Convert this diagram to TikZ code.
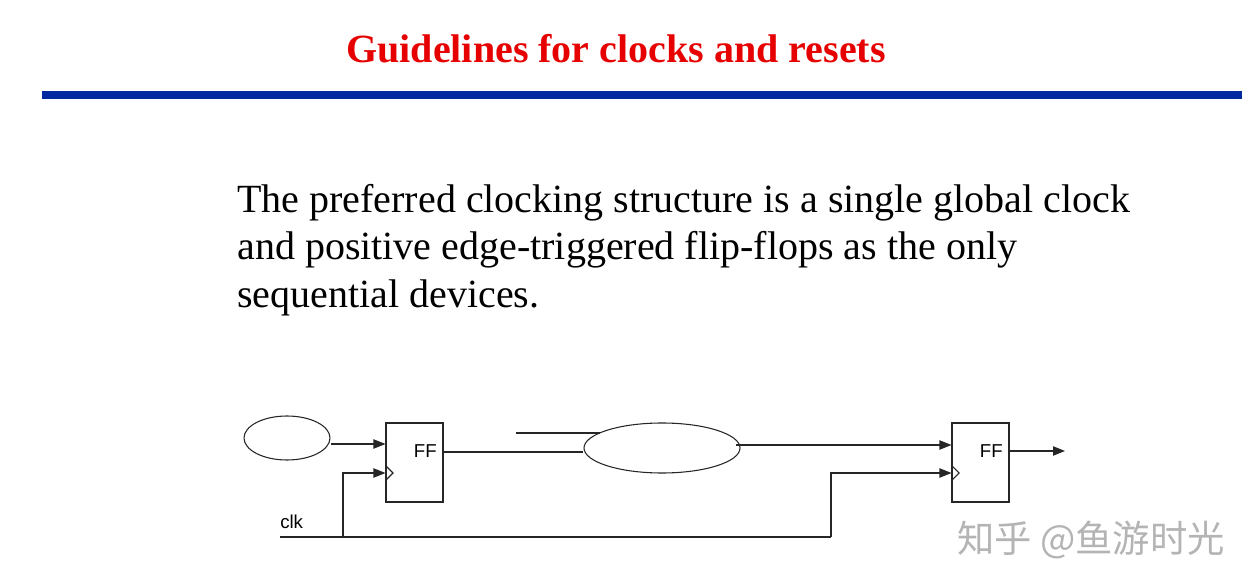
\documentclass[tikz,border=0pt]{standalone}
\usepackage{fontspec}
\setmainfont{Liberation Serif}
\newfontfamily\arialf{Liberation Sans}
\newfontfamily\cjk{Noto Sans CJK SC}
\usetikzlibrary{arrows.meta}
\definecolor{titlered}{RGB}{230,0,0}
\definecolor{barblue}{RGB}{0,40,160}
\definecolor{wmgray}{RGB}{180,180,180}
\tikzset{
  wire/.style={line width=0.8pt, draw=black!85},
  arr/.style={wire, -{Triangle[length=9pt,width=7pt]}},
  ffbox/.style={draw=black!85, line width=0.8pt, minimum width=57*0.75pt, minimum height=79*0.75pt, inner sep=0pt},
  blob/.style={draw=black!85, line width=0.8pt, ellipse, inner sep=0pt},
  lbl/.style={font=\arialf\fontsize{14pt}{16pt}\selectfont, inner sep=0pt},
  body/.style={font=\fontsize{30pt}{36pt}\selectfont, anchor=base west, inner sep=0pt}
}
\usetikzlibrary{shapes.geometric}
\begin{document}
\begin{tikzpicture}[x=0.75pt,y=-0.75pt]
\useasboundingbox (0,0) rectangle (1258,588);
\fill[white] (0,0) rectangle (1258,588);
% title
\node[font=\bfseries\fontsize{30pt}{34pt}\selectfont, text=titlered, anchor=base, inner sep=0pt] (title) at (616,63) {Guidelines for clocks and resets};
\fill[barblue] (42,91) rectangle (1242,99);
% body text
\node[body] (l1) at (237,213) {The preferred clocking structure is a single global clock};
\node[body] (l2) at (237,260) {and positive edge-triggered flip-flops as the only};
\node[body] (l3) at (237,307) {sequential devices.};
% diagram
\node[blob, minimum width=86*0.75pt, minimum height=44*0.75pt] (e1) at (287,438) {};
\node[ffbox] (ff1) at (414.5,462.5) {};
\node[lbl, anchor=east] (ff1t) at (437,451) {FF};
\node[blob, minimum width=156*0.75pt, minimum height=50*0.75pt] (e2) at (662,448) {};
\node[ffbox] (ff2) at (980.5,462.5) {};
\node[lbl, anchor=east] (ff2t) at (1003,451) {FF};
\node[lbl, anchor=base west] (clk) at (280,528) {clk};
\coordinate (clkL) at (280,537);
\coordinate (clkB1) at (343,537);
\coordinate (clkB2) at (831,537);
\coordinate (in2a) at (516,433);
\coordinate (out2) at (1065,451);
% clock chevrons
\draw[wire] (386,466) -- (393,473) -- (386,480);
\draw[wire] (952,466) -- (959,473) -- (952,480);
% connectors
\draw[arr] (e1.east |- 0,444) -- (ff1.west |- 0,444);
\draw[wire] (clkL) -- (clkB2);
\draw[arr] (clkB1) -- (343,473) -- (ff1.west |- 0,473);
\draw[arr] (clkB2) -- (831,473) -- (ff2.west |- 0,473);
\draw[wire] (ff1.east |- 0,452) -- (e2.west |- 0,452);
\draw[wire] (in2a) -- (600,433);
\draw[arr] (736,445) -- (ff2.west |- 0,445);
\draw[arr] (ff2.east |- 0,451) -- (out2);
% watermark
\node[font=\cjk\fontsize{28pt}{30pt}\selectfont, text=wmgray, anchor=center, inner sep=0pt] (wm) at (1091,540) {知乎 @鱼游时光};
\end{tikzpicture}
\end{document}
